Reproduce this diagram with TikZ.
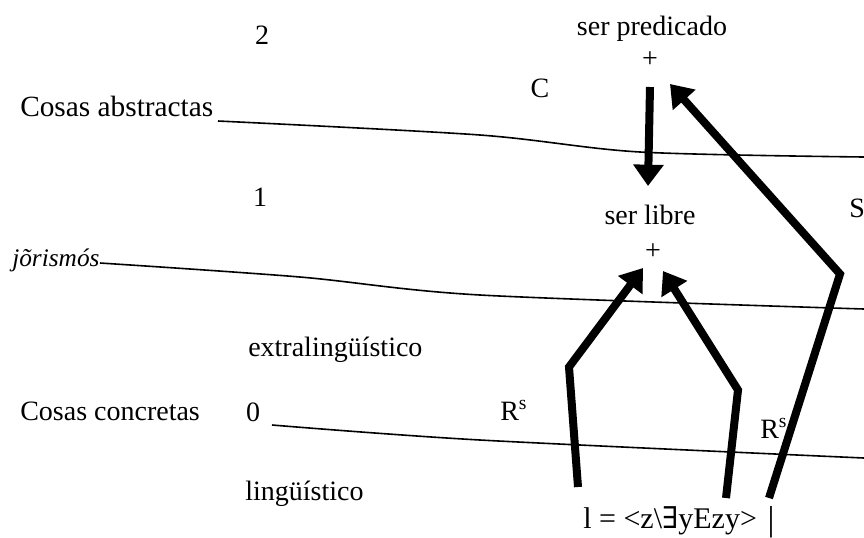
\documentclass[tikz,border=0pt]{standalone}
\usepackage{fontspec}
\setmainfont{Liberation Serif}
\newfontfamily\dvs{DejaVu Serif}
\usetikzlibrary{arrows.meta}
\begin{document}
\begin{tikzpicture}[x=0.75pt,y=-0.75pt,
 lbl/.style={inner sep=0pt, font=\fontsize{21}{25}\selectfont},
 level/.style={line width=1.2pt},
 bigarrow/.style={line width=6pt, miter limit=10, -{Triangle[length=16pt,width=22pt]}},
]
\useasboundingbox (0,0) rectangle (864,537);
% texts
\node[lbl,anchor=base] (two) at (262,44) {2};
\node[lbl,anchor=base] (pred) at (652,35) {ser predicado};
\node[lbl] (plusA) at (650,60) {+};
\node[lbl,anchor=base] (C) at (540,97) {C};
\node[lbl,anchor=base west,font=\fontsize{22}{26}\selectfont] (abs) at (20,116) {Cosas abstractas};
\node[lbl,anchor=base west] (S) at (849,217) {S};
\node[lbl,anchor=base] (one) at (260,206) {1};
\node[lbl,anchor=base] (libre) at (650,224) {ser libre};
\node[lbl] (plusB) at (653,252) {+};
\node[lbl,anchor=base west,font=\fontsize{19}{23}\selectfont\itshape] (jor) at (12,266) {jõrismós};
\node[lbl,anchor=base west] (extra) at (248,356) {extralingüístico};
\node[lbl,anchor=base west] (conc) at (20,420) {Cosas concretas};
\node[lbl,anchor=base] (zero) at (253,421) {0};
\node[lbl,anchor=base west] (ling) at (245,500) {lingüístico};
\node[lbl,anchor=base west] (Rl) at (500,420) {R\textsuperscript{s}};
\node[lbl,anchor=base west] (Rr) at (760,438) {R\textsuperscript{s}};
\node[lbl,anchor=base west,font=\fontsize{22.5}{26}\selectfont] (form) at (583,528) {l = <z\textbackslash{\dvs ∃}yEzy>};
\node[lbl,anchor=base,font=\fontsize{26}{30}\selectfont] (bar) at (771,530) {|};
% level lines
\draw[level] plot[smooth] coordinates {(218,121) (480,135) (640,152) (864,157)};
\draw[level] plot[smooth] coordinates {(100,263) (300,277) (480,295) (864,309)};
\draw[level] plot[smooth] coordinates {(272,425) (480,440) (864,458)};
% arrow coordinates
\coordinate (cTop) at (650,87);
\coordinate (cTip) at (648,186);
\coordinate (lBot) at (578,487);
\coordinate (lBend) at (569,367);
\coordinate (lTip) at (643,268);
\coordinate (rBot) at (726,498);
\coordinate (rBend) at (738,390);
\coordinate (rTip) at (663,271);
\coordinate (sBot) at (769,498);
\coordinate (sBend) at (840,274);
\coordinate (sTip) at (670,84);
\draw[bigarrow] (cTop) -- (cTip);
\draw[bigarrow] (lBot) -- (lBend) -- (lTip);
\draw[bigarrow] (rBot) -- (rBend) -- (rTip);
\draw[bigarrow] (sBot) -- (sBend) -- (sTip);
\end{tikzpicture}
\end{document}
